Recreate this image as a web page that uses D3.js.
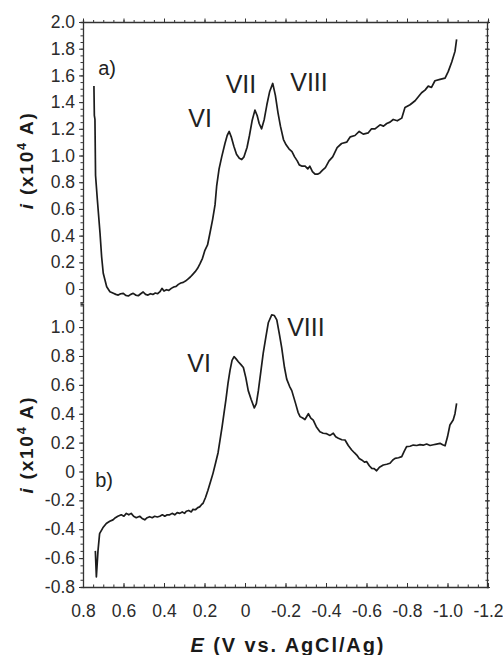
<!DOCTYPE html>
<html>
<head>
<meta charset="utf-8">
<script src="https://cdn.jsdelivr.net/npm/d3@7"></script>
<style>
  html, body { margin: 0; padding: 0; background: #fff; }
  svg { display: block; }
  .tick text { font-family: "Liberation Sans", Arial, sans-serif; font-size: 17.5px; fill: #2b2b2b; }
  .domain, .tick line { stroke: #333; }
</style>
</head>
<body>
<svg id="chart" width="503" height="655"></svg>
<script>
// Potential axis (V vs. AgCl/Ag)
const xTicks = [0.8, 0.6, 0.4, 0.2, 0, -0.2, -0.4, -0.6, -0.8, -1.0, -1.2];
const yTicksTop = [0, 0.2, 0.4, 0.6, 0.8, 1.0, 1.2, 1.4, 1.6, 1.8, 2.0];
const yTicksBottom = [-0.8, -0.6, -0.4, -0.2, 0, 0.2, 0.4, 0.6, 0.8, 1.0];

// Voltammogram a): [E, i]
const potentialA = [0.746, 0.744, 0.741, 0.738, 0.729, 0.716, 0.708, 0.700, 0.683, 0.667, 0.650, 0.638, 0.626, 0.614, 0.601, 0.589, 0.576, 0.564, 0.552, 0.540, 0.527, 0.515, 0.503, 0.491, 0.479, 0.467, 0.455, 0.443, 0.431, 0.420, 0.410, 0.400, 0.388, 0.376, 0.364, 0.352, 0.340, 0.329, 0.317, 0.305, 0.294, 0.282, 0.270, 0.258, 0.246, 0.234, 0.222, 0.210, 0.198, 0.185, 0.173, 0.160, 0.148, 0.140, 0.128, 0.115, 0.099, 0.088, 0.078, 0.068, 0.055, 0.042, 0.028, 0.016, 0.005, -0.010, -0.022, -0.035, -0.049, -0.060, -0.070, -0.082, -0.095, -0.108, -0.122, -0.137, -0.150, -0.163, -0.175, -0.190, -0.203, -0.217, -0.232, -0.245, -0.258, -0.268, -0.282, -0.297, -0.310, -0.320, -0.333, -0.346, -0.358, -0.370, -0.383, -0.397, -0.415, -0.433, -0.455, -0.477, -0.502, -0.520, -0.543, -0.564, -0.584, -0.609, -0.625, -0.642, -0.667, -0.684, -0.700, -0.716, -0.732, -0.752, -0.774, -0.790, -0.815, -0.840, -0.856, -0.872, -0.889, -0.905, -0.921, -0.938, -0.963, -0.988, -1.004, -1.021, -1.037, -1.045];
const currentA = [1.52, 1.30, 1.27, 0.85, 0.667, 0.42, 0.242, 0.118, 0.017, -0.02, -0.032, -0.04, -0.045, -0.035, -0.032, -0.048, -0.052, -0.04, -0.032, -0.045, -0.05, -0.035, -0.022, -0.04, -0.045, -0.035, -0.04, -0.03, -0.035, -0.02, 0.005, -0.015, -0.005, -0.01, 0.005, 0.015, 0.02, 0.035, 0.045, 0.05, 0.06, 0.075, 0.09, 0.11, 0.13, 0.155, 0.19, 0.23, 0.29, 0.33, 0.42, 0.52, 0.63, 0.77, 0.90, 0.99, 1.09, 1.15, 1.18, 1.14, 1.07, 1.01, 0.98, 0.97, 0.99, 1.06, 1.15, 1.26, 1.34, 1.30, 1.24, 1.20, 1.27, 1.38, 1.48, 1.54, 1.45, 1.32, 1.22, 1.12, 1.08, 1.05, 1.03, 0.99, 0.96, 0.93, 0.92, 0.92, 0.90, 0.92, 0.88, 0.86, 0.86, 0.87, 0.89, 0.91, 0.96, 0.99, 1.06, 1.09, 1.10, 1.14, 1.15, 1.18, 1.16, 1.17, 1.20, 1.20, 1.23, 1.22, 1.24, 1.25, 1.27, 1.26, 1.28, 1.36, 1.38, 1.41, 1.44, 1.47, 1.49, 1.52, 1.51, 1.56, 1.57, 1.58, 1.63, 1.70, 1.78, 1.87];

// Voltammogram b): [E, i]
const potentialB = [0.739, 0.734, 0.726, 0.718, 0.702, 0.685, 0.668, 0.652, 0.640, 0.628, 0.611, 0.598, 0.586, 0.574, 0.562, 0.550, 0.537, 0.520, 0.508, 0.495, 0.483, 0.471, 0.458, 0.446, 0.433, 0.421, 0.408, 0.396, 0.384, 0.372, 0.360, 0.347, 0.335, 0.322, 0.310, 0.298, 0.290, 0.278, 0.265, 0.257, 0.245, 0.233, 0.224, 0.215, 0.207, 0.195, 0.183, 0.170, 0.158, 0.145, 0.133, 0.123, 0.113, 0.104, 0.094, 0.084, 0.074, 0.064, 0.054, 0.044, 0.033, 0.020, 0.008, -0.004, -0.016, -0.030, -0.046, -0.056, -0.066, -0.078, -0.090, -0.103, -0.115, -0.132, -0.145, -0.157, -0.170, -0.181, -0.195, -0.206, -0.220, -0.231, -0.250, -0.262, -0.272, -0.285, -0.296, -0.313, -0.325, -0.337, -0.352, -0.370, -0.386, -0.403, -0.420, -0.436, -0.448, -0.461, -0.478, -0.494, -0.510, -0.527, -0.540, -0.552, -0.564, -0.576, -0.590, -0.601, -0.614, -0.626, -0.638, -0.650, -0.664, -0.683, -0.700, -0.716, -0.730, -0.741, -0.758, -0.774, -0.786, -0.798, -0.815, -0.831, -0.848, -0.864, -0.880, -0.897, -0.914, -0.930, -0.946, -0.963, -0.976, -0.988, -1.000, -1.012, -1.028, -1.037, -1.045];
const currentB = [-0.55, -0.73, -0.55, -0.43, -0.39, -0.36, -0.345, -0.335, -0.32, -0.31, -0.30, -0.31, -0.29, -0.30, -0.29, -0.31, -0.32, -0.31, -0.325, -0.335, -0.32, -0.313, -0.32, -0.31, -0.315, -0.31, -0.30, -0.31, -0.30, -0.30, -0.29, -0.30, -0.285, -0.29, -0.28, -0.29, -0.275, -0.27, -0.28, -0.262, -0.265, -0.25, -0.245, -0.23, -0.22, -0.18, -0.13, -0.07, -0.013, 0.06, 0.13, 0.22, 0.31, 0.40, 0.50, 0.61, 0.70, 0.77, 0.795, 0.78, 0.76, 0.74, 0.72, 0.65, 0.56, 0.50, 0.44, 0.47, 0.56, 0.69, 0.82, 0.93, 1.03, 1.085, 1.08, 1.05, 0.95, 0.86, 0.72, 0.64, 0.59, 0.56, 0.47, 0.41, 0.38, 0.37, 0.36, 0.40, 0.37, 0.355, 0.31, 0.275, 0.265, 0.262, 0.25, 0.265, 0.24, 0.23, 0.22, 0.218, 0.18, 0.149, 0.13, 0.114, 0.09, 0.08, 0.065, 0.068, 0.04, 0.022, 0.02, 0.005, 0.03, 0.045, 0.05, 0.057, 0.08, 0.091, 0.095, 0.103, 0.14, 0.172, 0.175, 0.183, 0.18, 0.186, 0.182, 0.19, 0.18, 0.185, 0.19, 0.195, 0.185, 0.178, 0.24, 0.322, 0.357, 0.40, 0.472];

// Peak annotations: text, E at label centre, i at baseline
const peakLabelsA = [["VI", 0.222, 1.21], ["VII", 0.020, 1.47], ["VIII", -0.316, 1.48]];
const peakLabelsB = [["VI", 0.227, 0.69], ["VIII", -0.301, 0.94]];

const svg = d3.select("#chart");
const FONT = '"Liberation Sans", Arial, sans-serif';

const x = d3.scaleLinear().domain([0.8, -1.2]).range([83, 488]);
const yA = d3.scaleLinear().domain([-0.1, 2.0]).range([302.4, 22]);
const yB = d3.scaleLinear().domain([-0.8, 1.16]).range([587, 304]);

// plain hyphen for negatives, bare "0" at zero
const fmt = v => (Math.abs(v) < 1e-9 ? "0" : (v < 0 ? "-" : "") + Math.abs(v).toFixed(1));
const steps = (a, b, s) => d3.range(Math.round(a / s), Math.round(b / s) + 1).map(k => +(k * s).toFixed(3));

function frame(y, majors, lo, hi) {
  const minors = steps(lo, hi, 0.05);
  // left axis: minor then labelled major ticks
  svg.append("g").attr("transform", `translate(${x(0.8)},0)`)
    .call(d3.axisLeft(y).tickValues(minors).tickSize(2.5).tickFormat(""))
    .call(g => g.select(".domain").attr("stroke-width", 1.3));
  svg.append("g").attr("transform", `translate(${x(0.8)},0)`)
    .call(d3.axisLeft(y).tickValues(majors).tickSize(4).tickPadding(4).tickFormat(fmt))
    .call(g => g.select(".domain").remove());
  // right axis: ticks straddling the line
  svg.append("g").attr("transform", `translate(${x(-1.2) - 1},0)`)
    .call(d3.axisRight(y).tickValues(minors).tickSize(2).tickFormat(""))
    .call(g => g.select(".domain").attr("stroke-width", 1.3))
    .call(g => g.selectAll(".tick line").attr("x1", -1.5));
  svg.append("g").attr("transform", `translate(${x(-1.2) - 1},0)`)
    .call(d3.axisRight(y).tickValues(majors).tickSize(3).tickFormat(""))
    .call(g => g.select(".domain").remove())
    .call(g => g.selectAll(".tick line").attr("x1", -2));
}

frame(yA, yTicksTop, -0.1, 2.0);
frame(yB, yTicksBottom, -0.8, 1.15);

// top edge of panel a)
const xMinors = steps(-1.2, 0.8, 0.05);
svg.append("g").attr("transform", `translate(0,${yA(2.0)})`)
  .call(d3.axisTop(x).tickValues(xMinors).tickSize(2).tickFormat(""))
  .call(g => g.select(".domain").attr("stroke-width", 1.3));
svg.append("g").attr("transform", `translate(0,${yA(2.0)})`)
  .call(d3.axisTop(x).tickValues(xTicks).tickSize(3.5).tickFormat(""))
  .call(g => g.select(".domain").remove());

// potential axis at the bottom, ticks pointing inward
svg.append("g").attr("transform", `translate(0,${yB(-0.8)})`)
  .call(d3.axisBottom(x).tickValues(xMinors).tickSizeInner(-2.5).tickSizeOuter(0).tickFormat(""))
  .call(g => g.select(".domain").attr("stroke-width", 1.3));
svg.append("g").attr("transform", `translate(0,${yB(-0.8)})`)
  .call(d3.axisBottom(x).tickValues(xTicks).tickSizeInner(-4).tickSizeOuter(0).tickPadding(18).tickFormat(fmt))
  .call(g => g.select(".domain").remove());

// curves
const line = y => d3.line().x(d => x(d[0])).y(d => y(d[1])).curve(d3.curveLinear);
svg.append("path").datum(d3.zip(potentialA, currentA))
  .attr("d", line(yA)).attr("fill", "none").attr("stroke", "#1c1c1c")
  .attr("stroke-width", 1.7).attr("stroke-linejoin", "round");
svg.append("path").datum(d3.zip(potentialB, currentB))
  .attr("d", line(yB)).attr("fill", "none").attr("stroke", "#1c1c1c")
  .attr("stroke-width", 1.7).attr("stroke-linejoin", "round");

// peak labels
function peaks(list, y) {
  svg.append("g").selectAll("text").data(list).join("text")
    .attr("x", d => x(d[1])).attr("y", d => y(d[2]))
    .attr("text-anchor", "middle")
    .attr("font-family", FONT).attr("font-size", 25).attr("fill", "#222")
    .text(d => d[0]);
}
peaks(peakLabelsA, yA);
peaks(peakLabelsB, yB);

// panel tags
svg.append("text").attr("x", x(0.725)).attr("y", yA(1.6)).attr("font-family", FONT)
  .attr("font-size", 20).attr("fill", "#222").text("a)");
svg.append("text").attr("x", x(0.74)).attr("y", yB(-0.11)).attr("font-family", FONT)
  .attr("font-size", 20).attr("fill", "#222").text("b)");

// current axis titles
function yTitle(cy) {
  const t = svg.append("text")
    .attr("transform", `translate(33,${cy}) rotate(-90)`)
    .attr("text-anchor", "middle")
    .attr("font-family", FONT).attr("font-size", 19).attr("font-weight", "bold").attr("fill", "#1a1a1a")
    .attr("textLength", 96).attr("lengthAdjust", "spacing");
  t.append("tspan").attr("font-style", "italic").text("i");
  t.append("tspan").text(" (x10");
  t.append("tspan").attr("font-size", 12.5).attr("dy", -7).text("4");
  t.append("tspan").attr("dy", 7).text(" A)");
}
yTitle((yA(2.0) + yA(-0.1)) / 2 - 1);
yTitle((yB(1.16) + yB(-0.8)) / 2);

// potential axis title
const xt = svg.append("text").attr("x", 287).attr("y", 652).attr("text-anchor", "middle")
  .attr("font-family", FONT).attr("font-size", 20).attr("font-weight", "bold").attr("fill", "#1a1a1a")
  .attr("textLength", 193).attr("lengthAdjust", "spacing");
xt.append("tspan").attr("font-style", "italic").text("E");
xt.append("tspan").text(" (V vs. AgCl/Ag)");
</script>
</body>
</html>
